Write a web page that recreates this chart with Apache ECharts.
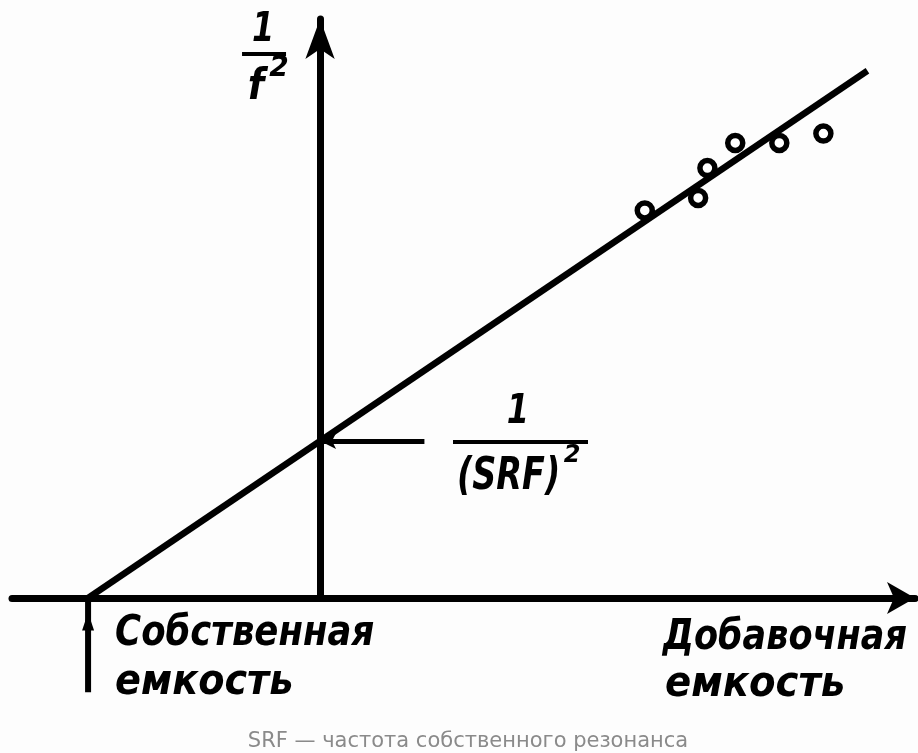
<!DOCTYPE html>
<html lang="ru">
<head>
<meta charset="UTF-8">
<script src="https://cdn.jsdelivr.net/npm/echarts@6/dist/echarts.min.js"></script>
<title>SRF</title>
<style>body{margin:0;background:#fdfdfd;}</style>
</head>
<body>
<div id="main" style="width:918px;height:753px;"></div>
<script>
// измеренные точки 1/f^2 от добавочной емкости (условные единицы)
var measured = [[1.40, 2.47], [1.63, 2.55], [1.67, 2.74], [1.79, 2.90], [1.98, 2.90], [2.17, 2.96]];
var fitLine = [[-1, 0], [2.36, 3.36]];
var interceptY = 1;        // 1/(SRF)^2
var selfCapX = -1;         // собственная емкость
var selfCapArrow = [[-1, -0.6], [-1, -0.15], [-1, 0]];

var chart = echarts.init(document.getElementById('main'));
var font = 'DejaVu Sans';

var option = {
    backgroundColor: '#fdfdfd',
    animation: false,
    grid: {left: 12, right: 3, top: 19, bottom: 155},
    xAxis: {
        type: 'value', min: -1.328, max: 2.565,
        axisLine: {onZero: true, symbol: ['none', 'arrow'], symbolSize: [24, 28],
            lineStyle: {color: '#000', width: 7}},
        axisTick: {show: false}, axisLabel: {show: false}, splitLine: {show: false}
    },
    yAxis: {
        type: 'value', min: 0, max: 3.69,
        axisLine: {onZero: true, symbol: ['none', 'arrow'], symbolSize: [22, 40],
            lineStyle: {color: '#000', width: 7}},
        axisTick: {show: false}, axisLabel: {show: false}, splitLine: {show: false}
    },
    series: [
        {
            type: 'line', data: fitLine, symbol: 'none', silent: true,
            lineStyle: {color: '#000', width: 6.5},
            markLine: {
                silent: true, symbol: ['none', 'arrow'], symbolSize: [12, 16],
                label: {show: false},
                lineStyle: {color: '#000', width: 5, type: 'solid'},
                data: [[{coord: [0.45, interceptY]}, {coord: [0, interceptY]}]]
            }
        },
        {
            type: 'line', data: selfCapArrow, clip: false, silent: true,
            symbol: function (v, p) { return p.dataIndex === 1 ? 'triangle' : 'none'; },
            symbolSize: [12, 18], showSymbol: true,
            itemStyle: {color: '#000'},
            lineStyle: {color: '#000', width: 6}
        },
        {
            type: 'scatter', data: measured, symbol: 'circle', symbolSize: 15,
            itemStyle: {color: '#fff', borderColor: '#000', borderWidth: 5.5, opacity: 1}
        }
    ]
};
chart.setOption(option);

var o = chart.convertToPixel({gridIndex: 0}, [0, 0]);
var sc = chart.convertToPixel({gridIndex: 0}, [selfCapX, 0]);
var ic = chart.convertToPixel({gridIndex: 0}, [0, interceptY]);
var xEnd = chart.convertToPixel({gridIndex: 0}, [2.565, 0]);

function txt(x, y, s, size, align, sx) {
    return {type: 'text', x: x, y: y, scaleX: sx || 1, silent: true, style: {
        text: s, fill: '#000', fontFamily: font, fontSize: size,
        fontStyle: 'italic', fontWeight: 'bold', textAlign: align || 'left', textVerticalAlign: 'middle'}};
}
function bar(x1, x2, y) {
    return {type: 'rect', shape: {x: x1, y: y - 2, width: x2 - x1, height: 4}, style: {fill: '#000'}, silent: true};
}

chart.setOption({
    graphic: [
        // 1/f^2
        txt(o[0] - 57, 31, '1', 40, 'center', 0.8),
        bar(o[0] - 78, o[0] - 34, 54),
        txt(o[0] - 64, 88, 'f', 42, 'center', 0.9),
        txt(o[0] - 41, 69, '2', 28, 'center', 1),
        // 1/(SRF)^2
        txt(518, ic[1] - 28, '1', 40, 'center', 0.8),
        bar(453, 588, ic[1] + 1),
        txt(457, ic[1] + 36, '(SRF)', 44, 'left', 0.76),
        txt(572, ic[1] + 15, '2', 24, 'center', 1),
        // подписи оси
        txt(sc[0] + 27, o[1] + 36, 'Собственная', 42, 'left', 0.845),
        txt(sc[0] + 27, o[1] + 85, 'емкость', 42, 'left', 0.91),
        txt(xEnd[0] - 8, o[1] + 40, 'Добавочная', 42, 'right', 0.835),
        txt(665, o[1] + 87, 'емкость', 42, 'left', 0.92),
        // подпись снизу
        {type: 'text', x: 468, y: 742, silent: true, style: {
            text: 'SRF — частота собственного резонанса', fill: '#8a8a8a',
            fontFamily: font, fontSize: 21, textAlign: 'center', textVerticalAlign: 'middle'}}
    ]
});
</script>
</body>
</html>
